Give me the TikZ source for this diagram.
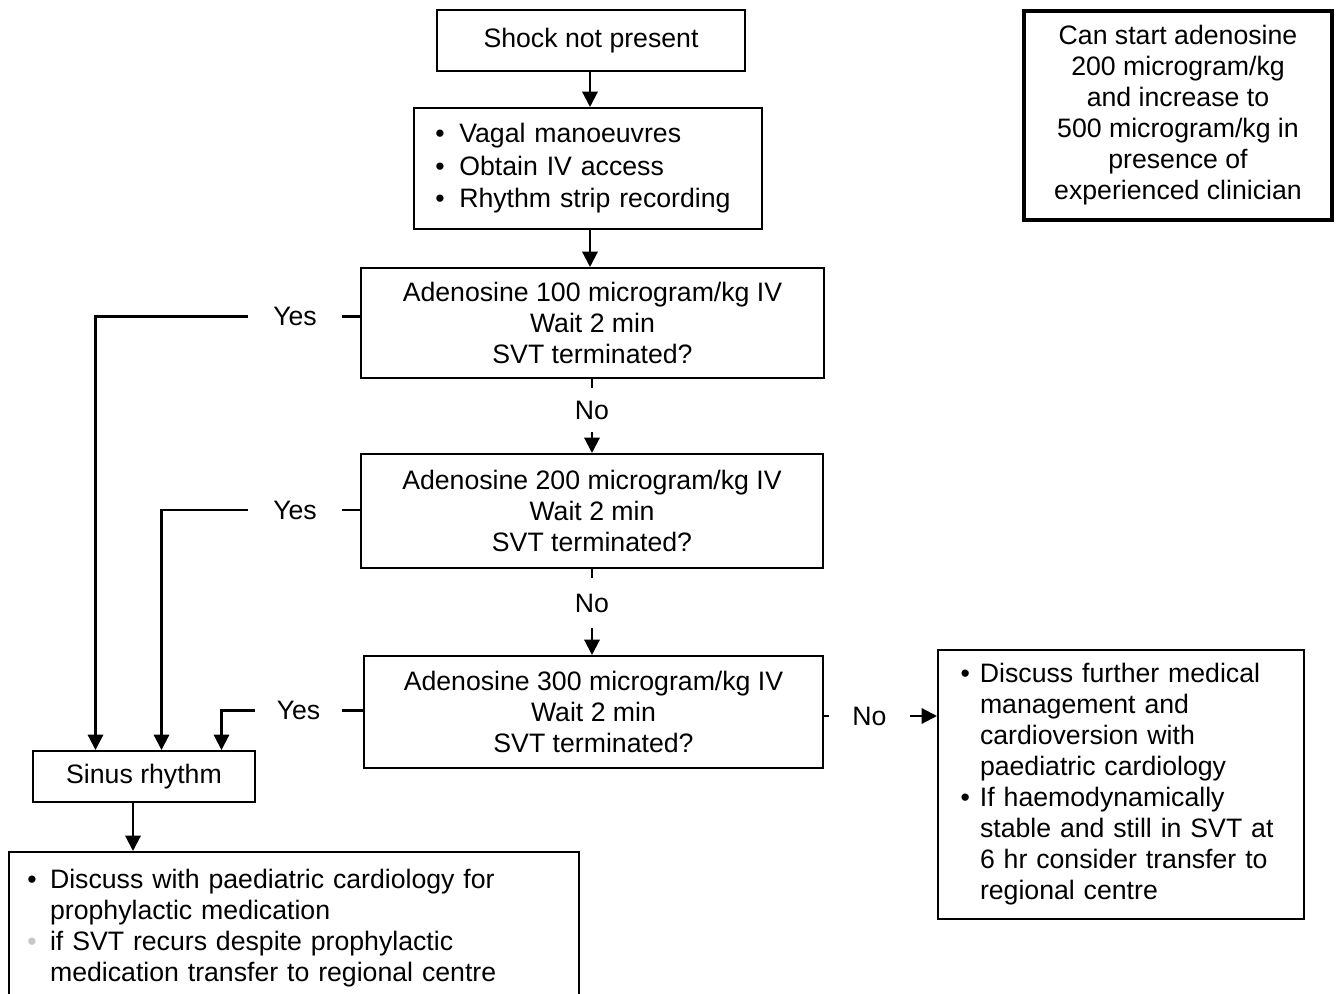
\documentclass[tikz,border=0pt]{standalone}
\usepackage{fontspec}
\setmainfont{Liberation Sans}
\usetikzlibrary{arrows.meta}
\newcommand{\bul}[1]{\makebox[#1][l]{•}}
\newcommand{\gbul}[1]{\makebox[#1][l]{\textcolor{black!22}{•}}}
\newcommand{\ind}[1]{\hspace*{#1}}
\begin{document}
\begin{tikzpicture}[x=0.75pt,y=-0.75pt,
  every node/.style={font=\fontsize{20}{23.25}\selectfont},
  box/.style={draw, line width=1.5pt, inner sep=0pt, align=center},
  lbl/.style={inner sep=0pt},
  arr/.style={line width=1.6pt, -{Triangle[length=11.5pt,width=11.5pt]}},
  ln/.style={line width=1.6pt}]
\useasboundingbox (0,0) rectangle (1336,994);
\clip (0,0) rectangle (1336,994);

% boxes
\node[box, minimum width=231pt, minimum height=45.75pt] (shock) at (591,40.5) {Shock not present};
\node[box, align=left, font=\fontsize{20}{24.4}\selectfont, inner xsep=16pt, text width=229pt, minimum height=90.75pt] (vagal) at (588,168.5)
  {\bul{18pt}Vagal manoeuvres\\\bul{18pt}Obtain IV access\\\bul{18pt}Rhythm strip recording};
\node[box, minimum width=347.25pt, minimum height=82.5pt] (a100) at (592.5,323)
  {Adenosine 100 microgram/kg IV\\Wait 2 min\\SVT terminated?};
\node[box, minimum width=346.5pt, minimum height=85.5pt] (a200) at (592,511)
  {Adenosine 200 microgram/kg IV\\Wait 2 min\\SVT terminated?};
\node[box, minimum width=344.25pt, minimum height=84pt] (a300) at (593.5,712)
  {Adenosine 300 microgram/kg IV\\Wait 2 min\\SVT terminated?};
\node[box, align=left, inner xsep=17pt, text width=240.5pt, minimum height=201.75pt] (disc) at (1121,784.5)
  {\bul{14.5pt}Discuss further medical\\\ind{14.5pt}management and\\\ind{14.5pt}cardioversion with\\\ind{14.5pt}paediatric cardiology\\
   \bul{14.5pt}If haemodynamically\\\ind{14.5pt}stable and still in SVT at\\\ind{14.5pt}6 hr consider transfer to\\\ind{14.5pt}regional centre};
\node[box, minimum width=166.5pt, minimum height=38.25pt] (sinus) at (144,776.5) {Sinus rhythm};
\node[box, align=left, inner xsep=13.8pt, text width=399.9pt, minimum height=114pt] (proph) at (294,928)
  {\bul{17pt}Discuss with paediatric cardiology for\\\ind{17pt}prophylactic medication\\
   \gbul{17pt}if SVT recurs despite prophylactic\\\ind{17pt}medication transfer to regional centre};
\node[box, line width=2.8pt, minimum width=231pt, minimum height=156.75pt] (note) at (1178,115.5)
  {Can start adenosine\\200 microgram/kg\\and increase to\\500 microgram/kg in\\presence of\\experienced clinician};

% labels
\node[lbl, minimum width=70.5pt] (yes1) at (295,316.5) {Yes};
\node[lbl, minimum width=70.5pt] (yes2) at (295,510) {Yes};
\node[lbl, minimum width=65.25pt] (yes3) at (298.5,710.5) {Yes};
\node[lbl, minimum height=33pt] (no1) at (592,410) {No};
\node[lbl, minimum height=37.5pt] (no2) at (592,603) {No};
\node[lbl, minimum width=60.75pt] (no3) at (869.5,716) {No};

% connectors
\draw[arr] (590,0 |- shock.south) -- (590,0 |- vagal.north);
\draw[arr] (590,0 |- vagal.south) -- (590,0 |- a100.north);
\draw[ln] (a100.south -| no1) -- (no1.north);
\draw[arr] (no1.south) -- (a200.north -| no1);
\draw[ln] (a200.south -| no2) -- (no2.north);
\draw[arr] (no2.south) -- (no2.south |- a300.north);
\draw[ln] (a300.east |- no3.west) -- (no3.west);
\draw[arr] (no3.east) -- (no3.east -| disc.west);

\draw[ln] (a100.west |- yes1.east) -- (yes1.east);
\draw[arr] (yes1.west) -| (sinus.north -| 95.5,0);
\draw[ln] (a200.west |- yes2.east) -- (yes2.east);
\draw[arr] (yes2.west) -| (sinus.north -| 161.5,0);
\draw[ln] (a300.west |- yes3.east) -- (yes3.east);
\draw[arr] (yes3.west) -| (sinus.north -| 221.5,0);

\draw[arr] (sinus.south -| 133,0) -- (proph.north -| 133,0);
\end{tikzpicture}
\end{document}
